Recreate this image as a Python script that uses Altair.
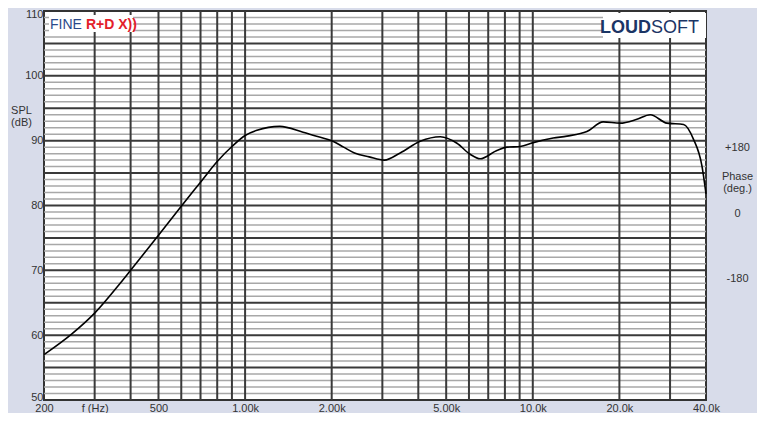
import altair as alt
import pandas as pd

# ---- data ----
freq_hz = [200, 250, 300, 368, 400, 500, 600, 700, 800, 900, 1000, 1100, 1320, 1590, 1800,
           2000, 2200, 2400, 2700, 3050, 3460, 4060, 4770, 5450, 6060, 6560, 7500, 8130,
           9040, 10030, 11770, 13140, 15420, 17570, 20130, 23010, 25600, 29260, 33420,
           36200, 38720, 40000]
spl_db = [57.0, 60.2, 63.4, 68.0, 70.0, 75.4, 79.9, 83.6, 86.8, 89.1, 90.8, 91.6, 92.2, 91.3, 90.6,
          90.0, 89.0, 88.1, 87.5, 87.0, 88.1, 89.9, 90.6, 89.6, 87.9, 87.2, 88.5, 89.0,
          89.1, 89.7, 90.4, 90.7, 91.4, 92.9, 92.7, 93.3, 94.0, 92.7, 92.5,
          90.2, 86.1, 81.8]

x_tick_values = [200, 300, 500, 1000, 2000, 5000, 10000, 20000, 40000]
x_tick_labels = ["200", "f (Hz)", "500", "1.00k", "2.00k", "5.00k", "10.0k", "20.0k", "40.0k"]
y_tick_values = [50, 60, 70, 80, 90, 100, 110]
major_db = [55, 60, 65, 70, 75, 80, 85, 90, 95, 100, 105]
minor_db = [d for d in range(51, 110) if d % 5 != 0]
vgrid_hz = [300, 400, 500, 600, 700, 800, 900, 1000, 2000, 3000, 4000, 5000, 6000,
            7000, 8000, 9000, 10000, 20000, 30000]
phase_tick_values = [-180, 0, 180]

FONT = "Liberation Sans"
TXT = "#333333"

x_scale = alt.Scale(type="log", domain=[200, 40000], nice=False)
y_scale = alt.Scale(domain=[50, 110], nice=False, zero=False)

label_expr = " : ".join(
    f"round(datum.value) == {v} ? '{t}'" for v, t in zip(x_tick_values, x_tick_labels)
) + " : ''"

x_axis = alt.Axis(
    values=x_tick_values, labelExpr=label_expr, title=None, grid=False, ticks=False,
    domain=False, labelPadding=2, labelFontSize=11, labelColor=TXT, labelFont=FONT,
    labelBaseline="top", labelFlush=False, labelAlign="center", labelOverlap=False)
y_axis = alt.Axis(
    values=y_tick_values, title=["SPL", "(dB)"], titleAngle=0, titleX=-23, titleY=99,
    titleAlign="center", titleBaseline="middle", titleFontWeight="normal",
    titleFontSize=11, titleFont=FONT, titleColor=TXT, titleLineHeight=12,
    grid=False, ticks=False, domain=False, labelPadding=1, labelFontSize=11,
    labelColor=TXT, labelFont=FONT,
    labelBaseline={"condition": [{"test": "datum.value == 110", "value": "top"},
                                 {"test": "datum.value == 50", "value": "alphabetic"}],
                   "value": "middle"},
    labelOffset={"condition": {"test": "datum.value == 110", "value": -3}, "value": 0},
    labelFlush=False, labelOverlap=False)

minor = alt.Chart(pd.DataFrame({"db": minor_db})).mark_rule(
    color="#a8a8a8", strokeWidth=1.5
).encode(y=alt.Y("db:Q", scale=y_scale, axis=y_axis))

major = alt.Chart(pd.DataFrame({"db": major_db})).mark_rule(
    color="#3a3a3a", strokeWidth=2
).encode(y=alt.Y("db:Q", scale=y_scale, axis=y_axis))

vert = alt.Chart(pd.DataFrame({"f": vgrid_hz})).mark_rule(
    color="#3a3a3a", strokeWidth=2
).encode(x=alt.X("f:Q", scale=x_scale, axis=x_axis))

curve = alt.Chart(pd.DataFrame({"f": freq_hz, "spl": spl_db})).mark_line(
    color="black", strokeWidth=1.6, interpolate="monotone"
).encode(
    x=alt.X("f:Q", scale=x_scale, axis=x_axis),
    y=alt.Y("spl:Q", scale=y_scale, axis=y_axis),
)

one = alt.Data(values=[{}])

box_fine = alt.Chart(one).mark_rect(color="white").encode(
    x=alt.value(5), x2=alt.value(89), y=alt.value(4), y2=alt.value(21))
txt_fine = alt.Chart(one).mark_text(
    text="FINE", font=FONT, fontSize=14, color="#2a4a8a", align="left", baseline="alphabetic"
).encode(x=alt.value(6), y=alt.value(17.5))
txt_rdx = alt.Chart(one).mark_text(
    text="R+D X))", font=FONT, fontSize=14, fontWeight="bold", color="#e3202a",
    align="left", baseline="alphabetic"
).encode(x=alt.value(42), y=alt.value(17.5))

box_loud = alt.Chart(one).mark_rect(color="white").encode(
    x=alt.value(559), x2=alt.value(662), y=alt.value(2), y2=alt.value(27))
txt_loud = alt.Chart(one).mark_text(
    text="LOUD", font=FONT, fontSize=18, fontWeight="bold", color="#1b3565",
    align="right", baseline="alphabetic"
).encode(x=alt.value(607), y=alt.value(21.5))
txt_soft = alt.Chart(one).mark_text(
    text="SOFT", font=FONT, fontSize=18, color="#1b3565",
    align="left", baseline="alphabetic"
).encode(x=alt.value(607), y=alt.value(21.5))

main = alt.layer(minor, major, vert, curve, box_fine, txt_fine, txt_rdx,
                 box_loud, txt_loud, txt_soft)

phase = alt.Chart(pd.DataFrame({"ph": phase_tick_values})).mark_point(opacity=0).encode(
    y=alt.Y("ph:Q", scale=alt.Scale(domain=[-514.6, 557.6], nice=False, zero=False),
            axis=alt.Axis(orient="right", values=phase_tick_values,
                          labelExpr="datum.value > 0 ? '+' + datum.value : '' + datum.value",
                          title=["Phase", "(deg.)"], titleAngle=0, titleX=31, titleY=165,
                          titleAlign="center", titleBaseline="middle",
                          titleFontWeight="normal", titleFontSize=11, titleFont=FONT,
                          titleColor=TXT, titleLineHeight=12, grid=False, ticks=False,
                          domain=False, labelPadding=31, labelAlign="center",
                          labelBaseline="middle", labelFontSize=11, labelColor=TXT,
                          labelFont=FONT, labelFlush=False, labelOverlap=False))
)

chart = alt.layer(main, phase).resolve_scale(y="independent").properties(
    width=662, height=389,
    autosize=alt.AutoSizeParams(type="none"),
    padding={"left": 36, "top": 3, "right": 51, "bottom": 13},
    background="#d8dcea",
).configure_view(stroke="#333333", strokeWidth=2, fill="white")

chart.save("out.html", embed_options={"renderer": "svg", "actions": False})
